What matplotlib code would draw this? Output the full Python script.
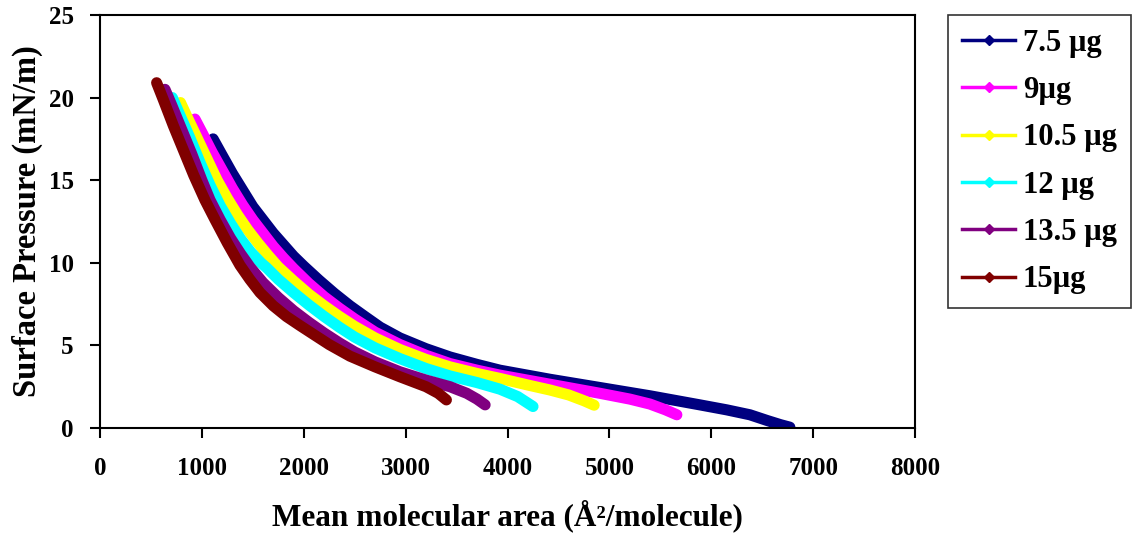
import matplotlib
matplotlib.use('Agg')
import matplotlib.pyplot as plt

# pressure-area isotherms
labels = ['7.5 µg', '9µg', '10.5 µg', '12 µg', '13.5 µg', '15µg']
colors = ['#000080', '#ff00ff', '#ffff00', '#00ffff', '#800080', '#800000']

area_75 = [1110, 1200, 1300, 1400, 1500, 1600, 1700, 1800, 1900, 2000, 2150, 2300, 2453, 2600, 2750,
           2944, 3200, 3435, 3700, 3925, 4416, 4907, 5397, 5888, 6150, 6379, 6550, 6680, 6771]
pres_75 = [17.5, 16.5, 15.4, 14.4, 13.4, 12.6, 11.8, 11.1, 10.4, 9.8, 8.95, 8.15, 7.4, 6.75, 6.1,
           5.45, 4.8, 4.3, 3.85, 3.5, 2.95, 2.45, 1.95, 1.4, 1.1, 0.8, 0.45, 0.2, 0.05]

area_9 = [932, 1000, 1100, 1200, 1300, 1400, 1500, 1600, 1700, 1800, 1900, 2050, 2200, 2350, 2500,
          2700, 2944, 3200, 3435, 3700, 3925, 4416, 4907, 5200, 5397, 5550, 5662]
pres_9 = [18.7, 17.9, 16.7, 15.6, 14.5, 13.5, 12.6, 11.8, 11.0, 10.3, 9.65, 8.75, 7.95, 7.25, 6.6,
          5.8, 5.05, 4.4, 3.9, 3.5, 3.2, 2.65, 2.1, 1.75, 1.45, 1.1, 0.8]

area_105 = [790, 850, 950, 1050, 1150, 1250, 1350, 1450, 1550, 1650, 1750, 1900, 2050, 2200, 2350,
            2500, 2700, 2944, 3200, 3435, 3700, 3925, 4200, 4416, 4600, 4750, 4850]
pres_105 = [19.7, 18.9, 17.6, 16.3, 15.0, 13.9, 12.9, 12.0, 11.2, 10.45, 9.75, 8.9, 8.1, 7.4, 6.75,
            6.15, 5.45, 4.75, 4.15, 3.7, 3.3, 3.0, 2.6, 2.3, 2.0, 1.65, 1.38]

area_12 = [710, 780, 880, 980, 1080, 1180, 1280, 1380, 1480, 1580, 1636, 1750, 1900, 2050, 2200,
           2350, 2500, 2700, 2944, 3200, 3435, 3700, 3925, 4100, 4250]
pres_12 = [20.0, 19.0, 17.6, 16.1, 14.7, 13.45, 12.4, 11.45, 10.65, 10.0, 9.7, 9.0, 8.2, 7.45, 6.75,
           6.1, 5.5, 4.85, 4.2, 3.6, 3.15, 2.75, 2.35, 1.9, 1.3]

area_135 = [638, 700, 800, 900, 1000, 1080, 1180, 1280, 1380, 1472, 1600, 1750, 1900, 2050, 2200,
            2350, 2500, 2700, 2944, 3200, 3435, 3600, 3700, 3780]
pres_135 = [20.5, 19.6, 18.1, 16.6, 15.0, 13.8, 12.6, 11.5, 10.55, 9.75, 8.8, 7.9, 7.1, 6.4, 5.75,
            5.15, 4.6, 4.0, 3.4, 2.9, 2.5, 2.1, 1.75, 1.4]

area_15 = [556, 620, 720, 820, 920, 1030, 1130, 1250, 1374, 1470, 1570, 1700, 1830, 1963, 2100,
           2250, 2453, 2700, 2944, 3200, 3320, 3400]
pres_15 = [20.9, 19.9, 18.3, 16.8, 15.3, 13.8, 12.6, 11.2, 9.85, 9.0, 8.2, 7.4, 6.75, 6.2, 5.65,
           5.05, 4.35, 3.7, 3.1, 2.5, 2.1, 1.7]

areas = [area_75, area_9, area_105, area_12, area_135, area_15]
pressures = [pres_75, pres_9, pres_105, pres_12, pres_135, pres_15]

plt.rcParams['font.family'] = ['Liberation Serif', 'DejaVu Serif']
plt.rcParams['font.weight'] = 'bold'

fig = plt.figure(figsize=(11.4, 5.36), dpi=100)
ax = fig.add_axes([0.0877, 0.2015, 0.715, 0.7705])

for x, y, c in zip(areas, pressures, colors):
    ax.plot(x, y, color=c, lw=8, solid_capstyle='round', solid_joinstyle='round')

ax.set_xlim(0, 8000)
ax.set_ylim(0, 25)
ax.set_xticks(range(0, 8001, 1000))
ax.set_yticks(range(0, 26, 5))
ax.tick_params(direction='out', length=7, width=1.5, labelsize=18)
ax.tick_params(axis='x', pad=14)
ax.tick_params(axis='y', pad=12)
for s in ax.spines.values():
    s.set_linewidth(1.5)

ax.set_xlabel('Mean molecular area (Å²/molecule)', fontsize=22.5, fontweight='bold', labelpad=14)
ax.set_ylabel('Surface Pressure (mN/m)', fontsize=23.5, fontweight='bold', labelpad=4)

handles = [plt.Line2D([0], [0], color=c, lw=2.5, marker='D', markersize=5) for c in colors]
leg = fig.legend(handles, labels, loc='upper left', bbox_to_anchor=(0.8316, 0.972),
                 fontsize=22, frameon=True, fancybox=False, edgecolor='black',
                 borderaxespad=0, handlelength=1.75, labelspacing=0.6,
                 borderpad=0.45, handletextpad=0.25)
leg.get_frame().set_linewidth(1.2)

fig.savefig('out.png', dpi=100)
